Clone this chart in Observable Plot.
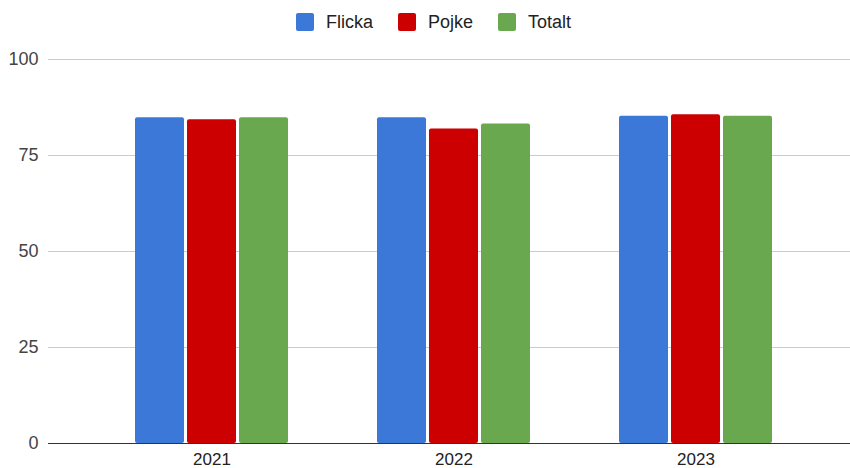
<!DOCTYPE html>
<html>
<head>
<meta charset="utf-8">
<script src="https://cdn.jsdelivr.net/npm/d3@7"></script>
<script src="https://cdn.jsdelivr.net/npm/@observablehq/plot@0.6"></script>
<style>
  html, body { margin: 0; padding: 0; background: #fff; }
  body { width: 850px; height: 468px; overflow: hidden; font-family: "Liberation Sans", Arial, sans-serif; }
  #legend { height: 44px; display: flex; align-items: center; padding-left: 296px; box-sizing: border-box; }
  .item { display: flex; align-items: center; margin-right: 25px; font-size: 18px; color: #222; }
  .sw { width: 18px; height: 18px; border-radius: 2px; margin-right: 12px; }
  #chart { position: relative; width: 850px; height: 424px; }
  #chart svg { position: absolute; left: 0; top: 0; }
</style>
</head>
<body>
<div id="legend"></div>
<div id="chart"></div>
<script>
const years = ["2021", "2022", "2023"];
const series = ["Flicka", "Pojke", "Totalt"];
const flicka = [84.8, 84.8, 85.2];
const pojke = [84.3, 81.9, 85.6];
const totalt = [84.8, 83.2, 85.2];
const colors = ["#3c78d8", "#cc0000", "#6aa84f"];
const yTicks = [0, 25, 50, 75, 100];

const valuesBySeries = [flicka, pojke, totalt];
const data = [];
years.forEach((yr, i) => {
  series.forEach((s, j) => data.push({year: yr, series: s, value: valuesBySeries[j][i]}));
});

const legend = document.getElementById("legend");
series.forEach((s, j) => {
  const it = document.createElement("div");
  it.className = "item";
  const sw = document.createElement("div");
  sw.className = "sw";
  sw.style.background = colors[j];
  const t = document.createElement("span");
  t.textContent = s;
  it.appendChild(sw);
  it.appendChild(t);
  legend.appendChild(it);
});

const font = "'Liberation Sans', Arial, sans-serif";
const common = {
  width: 850,
  height: 424,
  marginLeft: 48,
  marginRight: 0,
  marginTop: 15,
  marginBottom: 25,
  y: {domain: [0, 100], ticks: yTicks, tickSize: 0, tickPadding: 10, label: null}
};

// back layer: gridlines
const back = Plot.plot({
  ...common,
  style: {fontFamily: font, fontSize: "18px", color: "#444", background: "#fff"},
  y: {...common.y, axis: null},
  marks: [
    Plot.ruleY(yTicks.filter(d => d > 0), {stroke: "#cccccc", strokeWidth: 1})
  ]
});

// middle layer: bars and year labels
const mid = Plot.plot({
  ...common,
  style: {fontFamily: font, fontSize: "17px", color: "#222", background: "transparent"},
  fx: {domain: years, paddingInner: 0.36, paddingOuter: 0.337, align: 0.53, label: null},
  x: {domain: series, paddingInner: 0.057, paddingOuter: 0, axis: null},
  y: {...common.y, axis: null},
  color: {domain: series, range: colors},
  marks: [
    Plot.barY(data, {fx: "year", x: "series", y: "value", fill: "series", rx: 2}),
    Plot.axisFx({anchor: "bottom", tickSize: 0, tickPadding: 9, label: null, fontSize: 17})
  ]
});

// front layer: baseline and y axis
const front = Plot.plot({
  ...common,
  style: {fontFamily: font, fontSize: "18px", color: "#444", background: "transparent"},
  marks: [
    Plot.axisY({ticks: yTicks, tickSize: 0, tickPadding: 10, label: null}),
    Plot.ruleY([0], {stroke: "#333333", strokeWidth: 1.2})
  ]
});

const c = document.getElementById("chart");
c.appendChild(back);
c.appendChild(mid);
c.appendChild(front);
</script>
</body>
</html>
